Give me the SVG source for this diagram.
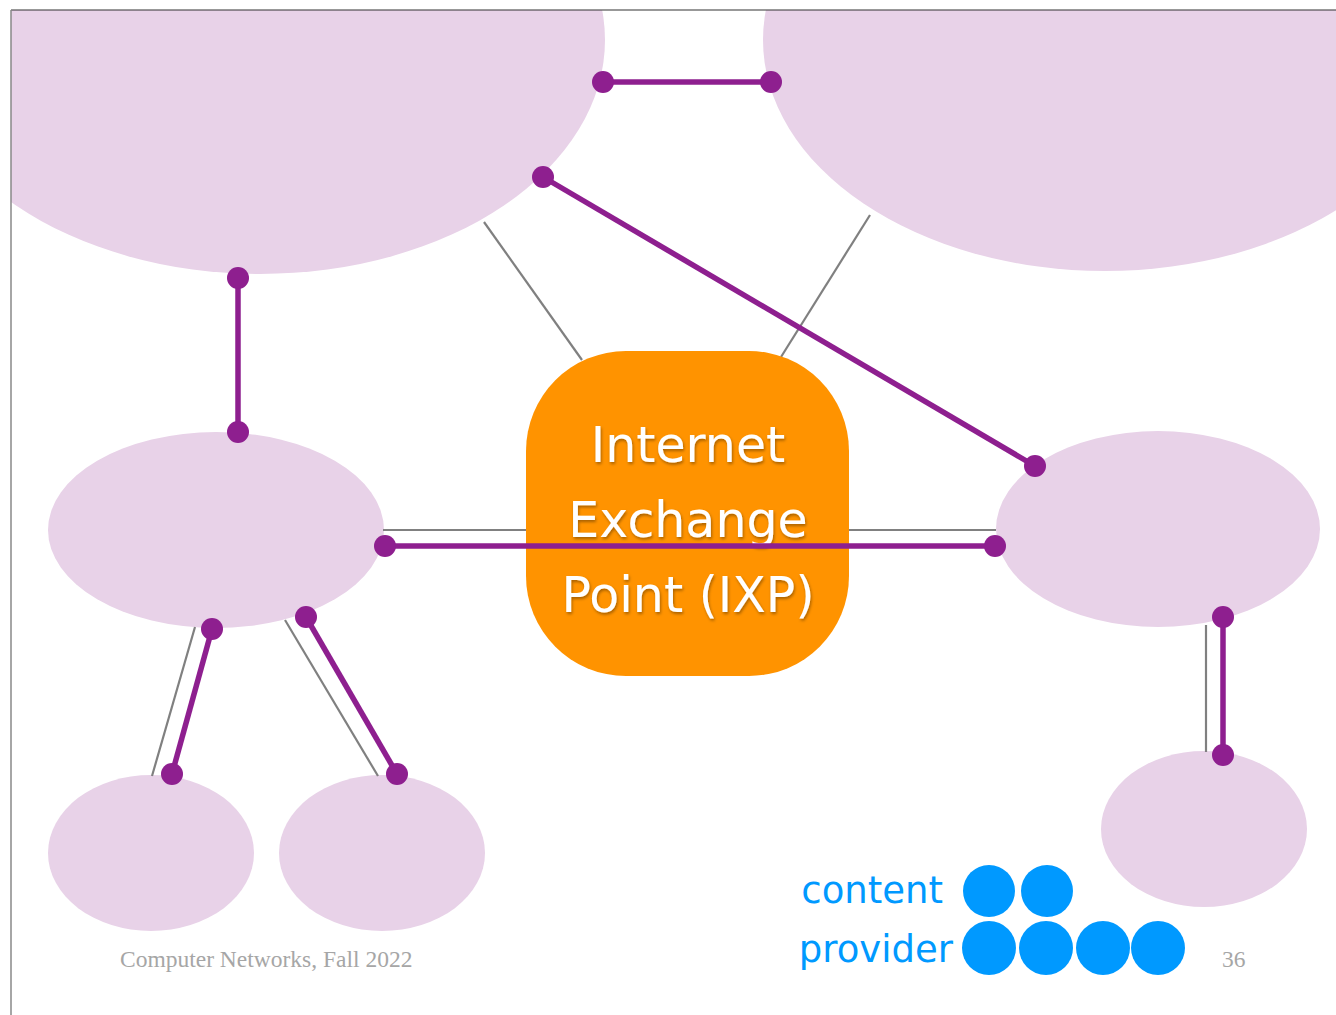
<svg xmlns="http://www.w3.org/2000/svg" width="1336" height="1015" viewBox="0 0 1336 1015">
<defs>
<clipPath id="slide"><rect x="11" y="10" width="1325" height="1005"/></clipPath>
<filter id="sh" x="-10%" y="-10%" width="120%" height="130%">
<feDropShadow dx="1" dy="2" stdDeviation="1.5" flood-color="#000" flood-opacity="0.35"/>
</filter>
<marker id="dot" viewBox="0 0 24 24" refX="12" refY="12" markerWidth="24" markerHeight="24" markerUnits="userSpaceOnUse">
<circle cx="12" cy="12" r="11" fill="#8E1F8F"/>
</marker>
</defs>
<style>
.as{fill:#E8D2E8}
.gray{stroke:#808080;stroke-width:2.2;fill:none}
.purple{stroke:#8E1F8F;stroke-width:5.5;fill:none;marker-start:url(#dot);marker-end:url(#dot)}
.ixpt{font-family:"Comic Sans MS","DejaVu Sans",sans-serif;font-size:49px;fill:#fff;text-anchor:middle}
.cp{font-family:"Comic Sans MS","DejaVu Sans",sans-serif;font-size:37px;fill:#0099FF;text-anchor:end}
.cpd{fill:#0099FF}
.foot{font-family:"Liberation Serif",serif;font-size:23.5px;fill:#A6A6A6}
</style>
<rect width="1336" height="1015" fill="#fff"/>
<g clip-path="url(#slide)">
<g id="as-top-left"><ellipse class="as" cx="260" cy="40" rx="345" ry="234"/></g>
<g id="as-top-right"><ellipse class="as" cx="1105" cy="40" rx="342" ry="231"/></g>
<g id="as-mid-left"><ellipse class="as" cx="216" cy="530" rx="168" ry="98"/></g>
<g id="as-mid-right"><ellipse class="as" cx="1158" cy="529" rx="162" ry="98"/></g>
<g id="as-bottom-left-1"><ellipse class="as" cx="151" cy="853" rx="103" ry="78"/></g>
<g id="as-bottom-left-2"><ellipse class="as" cx="382" cy="853" rx="103" ry="78"/></g>
<g id="as-bottom-right"><ellipse class="as" cx="1204" cy="829" rx="103" ry="78"/></g>
<g id="gray-links">
<line class="gray" x1="484" y1="222" x2="582" y2="360"/>
<line class="gray" x1="870" y1="215" x2="781" y2="357"/>
<line class="gray" x1="383" y1="530" x2="527" y2="530"/>
<line class="gray" x1="848" y1="530" x2="996" y2="530"/>
<line class="gray" x1="195" y1="627" x2="152" y2="776"/>
<line class="gray" x1="285" y1="620" x2="378" y2="776"/>
<line class="gray" x1="1206" y1="625" x2="1206" y2="752"/>
</g>
<g id="ixp">
<rect x="526" y="351" width="323" height="325" rx="100" ry="100" fill="#FF9300"/>
<g filter="url(#sh)">
<text class="ixpt" x="688" y="462">Internet</text>
<text class="ixpt" x="688" y="537">Exchange</text>
<text class="ixpt" x="688" y="612">Point (IXP)</text>
</g>
</g>
<g id="connectors">
<line class="purple" x1="603" y1="82" x2="771" y2="82"/>
<line class="purple" x1="543" y1="177" x2="1035" y2="466"/>
<line class="purple" x1="238" y1="278" x2="238" y2="432"/>
<line class="purple" x1="385" y1="546" x2="995" y2="546"/>
<line class="purple" x1="212" y1="629" x2="172" y2="774"/>
<line class="purple" x1="306" y1="617" x2="397" y2="774"/>
<line class="purple" x1="1223" y1="617" x2="1223" y2="755"/>
</g>
<g id="content-provider">
<text class="cp" x="943" y="903">content</text>
<text class="cp" x="953" y="962">provider</text>
<circle class="cpd" cx="989" cy="891" r="26"/>
<circle class="cpd" cx="1047" cy="891" r="26"/>
<circle class="cpd" cx="989" cy="948" r="27"/>
<circle class="cpd" cx="1046" cy="948" r="27"/>
<circle class="cpd" cx="1103" cy="948" r="27"/>
<circle class="cpd" cx="1158" cy="948" r="27"/>
</g>
<text class="foot" x="120" y="967">Computer Networks, Fall 2022</text>
<text class="foot" x="1222" y="967">36</text>
</g>
<line x1="11" y1="10" x2="1336" y2="10" stroke="#333" stroke-width="1.2"/>
<line x1="11" y1="10" x2="11" y2="1015" stroke="#888" stroke-width="1.5"/>
</svg>
